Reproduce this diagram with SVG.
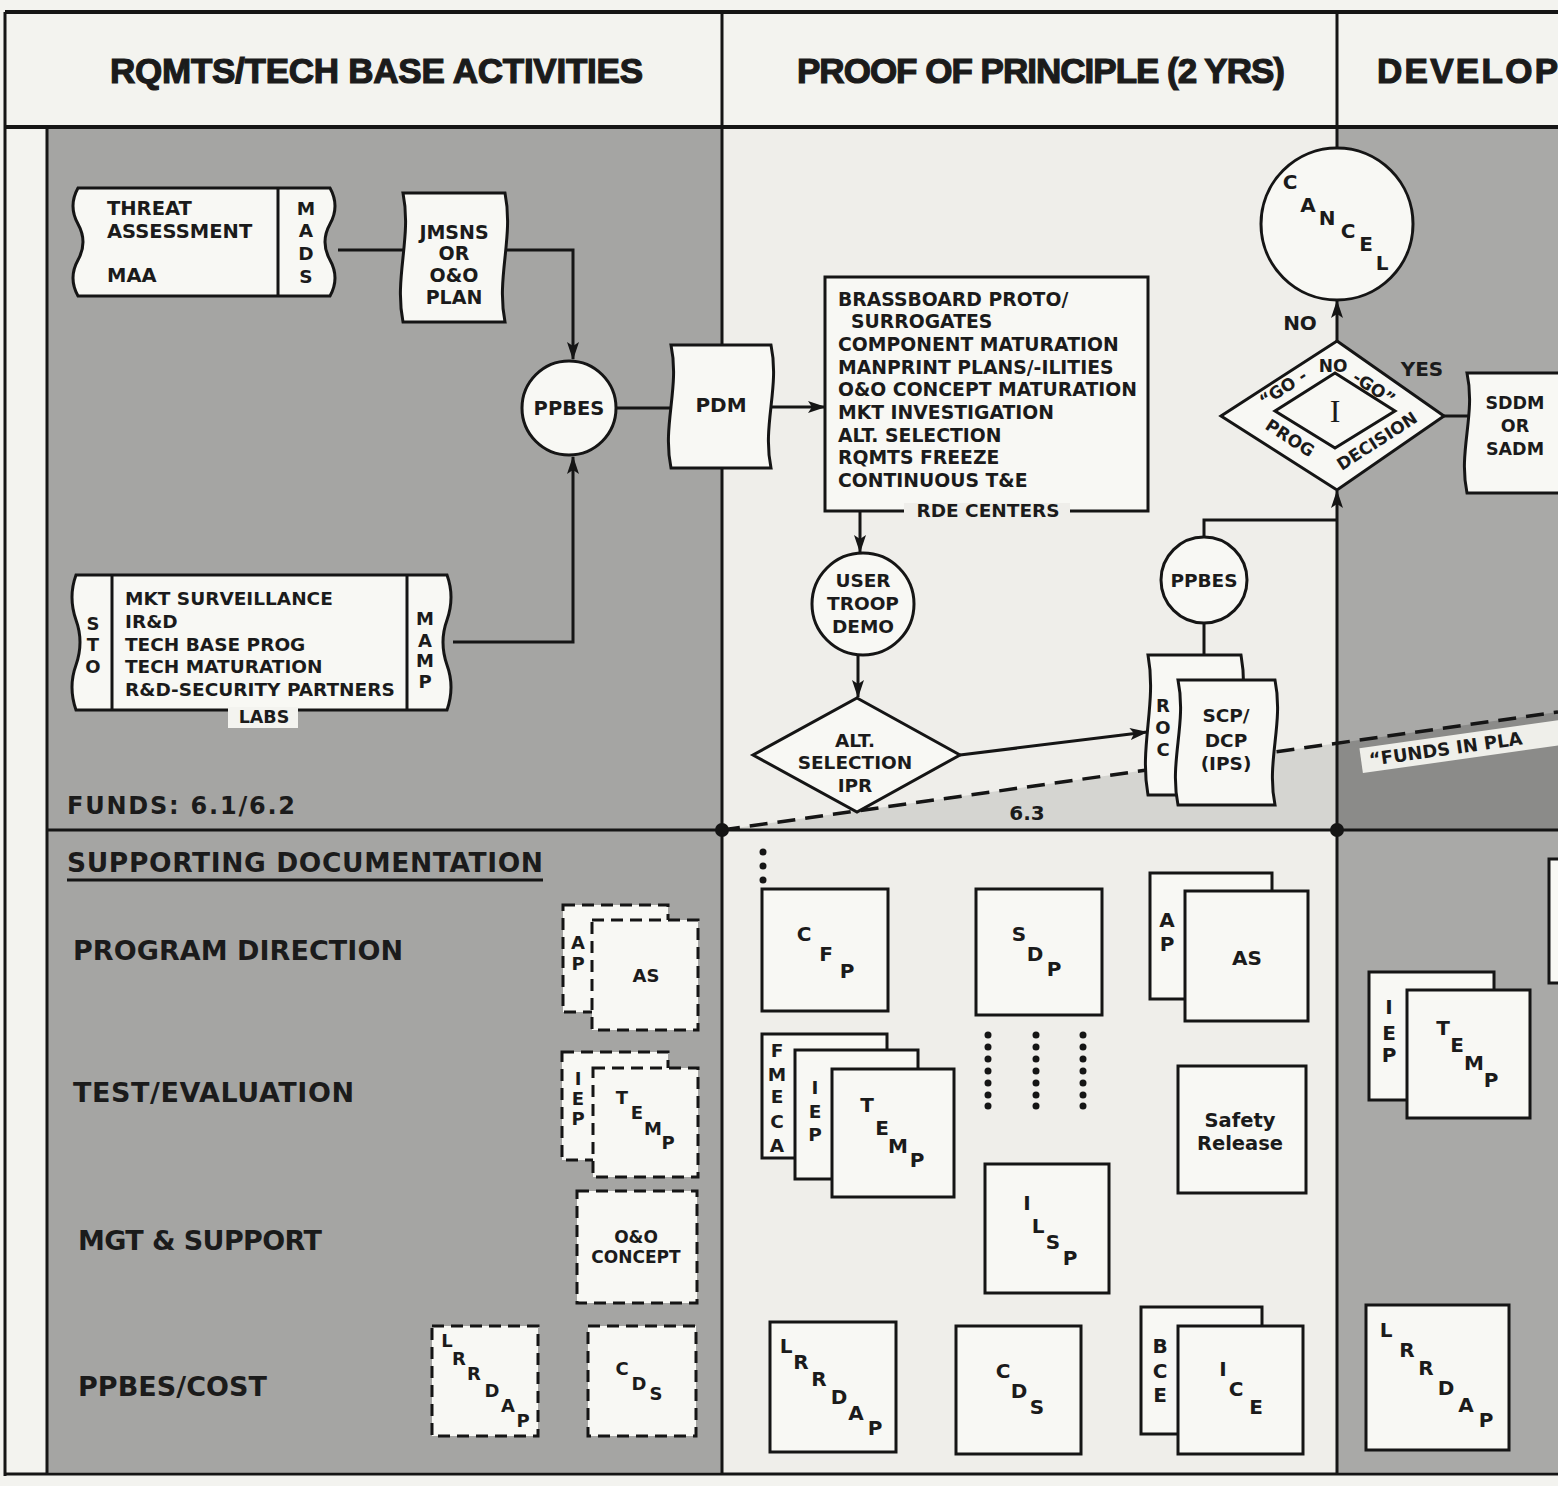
<svg xmlns="http://www.w3.org/2000/svg" width="1558" height="1486" viewBox="0 0 1558 1486">
<style>
.t{font-family:"DejaVu Sans","Liberation Sans",sans-serif;font-weight:bold;fill:#1b1b1b}
.m{text-anchor:middle}
.hd{font-family:"Liberation Sans",Arial,sans-serif;font-weight:bold;font-size:35px;fill:#1b1b1b;stroke:#1b1b1b;stroke-width:1.2}
.ln{fill:none;stroke:#151515;stroke-width:3}
.bd{fill:none;stroke:#151515;stroke-width:4}
.box{fill:#f8f8f4;stroke:#151515;stroke-width:3}
.dbox{fill:#f8f8f4;stroke:#151515;stroke-width:3;stroke-dasharray:12 7}
.dot{fill:#151515}
</style>
<defs>
<marker id="ah" markerUnits="userSpaceOnUse" markerWidth="18" markerHeight="12" refX="17" refY="6" orient="auto">
<path d="M0,0 L18,6 L0,12 L4,6 z" fill="#151515"/>
</marker>
</defs>

<!-- backgrounds -->
<rect x="0" y="0" width="1558" height="1486" fill="#f3f3ef"/>
<rect x="47" y="127" width="675" height="1345" fill="#a5a5a3"/>
<rect x="722" y="127" width="615" height="1345" fill="#efeeea"/>
<polygon points="722,830 1337,743.2 1337,830" fill="#d5d5d1"/>
<rect x="1337" y="127" width="221" height="1345" fill="#a9a9a7"/>
<polygon points="1337,743.2 1558,712 1558,830 1337,830" fill="#8b8b89"/>

<!-- frame -->
<g id="frame">
<path class="bd" d="M5,12 H1558 M5,127 H1558"/>
<path class="ln" d="M5,12 V1476 M5,1474 H1558 M47,127 V1474 M722,12 V1474 M1337,12 V148 M1337,830 V1474 M47,830 H1558"/>
<circle class="dot" cx="722" cy="830" r="7"/>
<circle class="dot" cx="1337" cy="830" r="7"/>
<path d="M722,830 L1558,712" fill="none" stroke="#151515" stroke-width="3.5" stroke-dasharray="18 10"/>
</g>

<!-- headers -->
<g id="headers">
<text class="hd" x="110" y="83" textLength="533">RQMTS/TECH BASE ACTIVITIES</text>
<text class="hd" x="797" y="83" textLength="488">PROOF OF PRINCIPLE (2 YRS)</text>
<text class="hd" x="1377" y="83" textLength="181">DEVELOP</text>
</g>

<!-- labels -->
<g id="labels">
<text class="t" x="67" y="814" font-size="24" textLength="228">FUNDS: 6.1/6.2</text>
<text class="t m" x="1027" y="820" font-size="20">6.3</text>
<text class="t" x="67" y="872" font-size="26.5" textLength="476">SUPPORTING DOCUMENTATION</text>
<path class="ln" d="M67,880 H543"/>
<text class="t" x="73" y="960" font-size="27" textLength="330">PROGRAM DIRECTION</text>
<text class="t" x="73" y="1102" font-size="27" textLength="281">TEST/EVALUATION</text>
<text class="t" x="78" y="1250" font-size="27" textLength="244">MGT &amp; SUPPORT</text>
<text class="t" x="78" y="1396" font-size="27" textLength="189">PPBES/COST</text>
<g transform="rotate(-8.03 1370 766)">
<rect x="1362" y="747" width="210" height="25" fill="#efefea"/>
<text class="t" x="1370" y="766" font-size="18">“FUNDS IN PLA</text>
</g>
</g>

<!-- connectors -->
<g id="connectors">
<path class="ln" d="M338,250 H403"/>
<path class="ln" d="M505,250 H573 V359" marker-end="url(#ah)"/>
<path class="ln" d="M453,642 H573 V457" marker-end="url(#ah)"/>
<path class="ln" d="M616,408 H672"/>
<path class="ln" d="M771,407 H825" marker-end="url(#ah)"/>
<path class="ln" d="M860,511 V552" marker-end="url(#ah)"/>
<path class="ln" d="M858,655 V697" marker-end="url(#ah)"/>
<path class="ln" d="M960,755 L1147,732" marker-end="url(#ah)"/>
<path class="ln" d="M1204,623 V656"/>
<path class="ln" d="M1204,537 V520 H1337"/>
<path class="ln" d="M1337,830 V491" marker-end="url(#ah)"/>
<path class="ln" d="M1337,341 V301" marker-end="url(#ah)"/>
<path class="ln" d="M1444,416 H1468"/>
</g>

<!-- upper-left nodes -->
<g id="threat">
<path class="box" d="M78,188 H330 Q340,206 330,224 Q320,242 330,260 Q340,278 330,296 H78 Q68,278 78,260 Q88,242 78,224 Q68,206 78,188 Z"/>
<path class="ln" d="M278,188 V296"/>
<text class="t" x="107" y="215" font-size="19.5">THREAT</text>
<text class="t" x="107" y="238" font-size="19.5">ASSESSMENT</text>
<text class="t" x="107" y="282" font-size="19.5">MAA</text>
<text class="t m" x="306" y="215" font-size="18.5">M</text>
<text class="t m" x="306" y="237" font-size="18.5">A</text>
<text class="t m" x="306" y="260" font-size="18.5">D</text>
<text class="t m" x="306" y="283" font-size="18.5">S</text>
</g>

<g id="jmsns">
<path class="box" d="M403,193 H505 C514,238 496,277 505,322 H403 C394,277 412,238 403,193 Z"/>
<text class="t m" x="454" y="239" font-size="19">JMSNS</text>
<text class="t m" x="454" y="260" font-size="19">OR</text>
<text class="t m" x="454" y="282" font-size="19">O&amp;O</text>
<text class="t m" x="454" y="304" font-size="19">PLAN</text>
</g>

<g id="ppbes1">
<circle class="box" cx="569" cy="408" r="47"/>
<text class="t m" x="569" y="415" font-size="19.5">PPBES</text>
</g>

<g id="pdm">
<path class="box" d="M671,345 H771 C780,388 762,425 771,468 H671 C662,425 680,388 671,345 Z"/>
<text class="t m" x="721" y="412" font-size="20">PDM</text>
</g>

<g id="mkt">
<path class="box" d="M76,575 H447 Q455,597 447,620 Q439,642 447,665 Q455,687 447,710 H76 Q68,687 76,665 Q84,642 76,620 Q68,597 76,575 Z"/>
<path class="ln" d="M112,575 V710 M407,575 V710"/>
<text class="t m" x="93" y="630" font-size="18">S</text>
<text class="t m" x="93" y="651" font-size="18">T</text>
<text class="t m" x="93" y="673" font-size="18">O</text>
<text class="t" x="125" y="605" font-size="18.5">MKT SURVEILLANCE</text>
<text class="t" x="125" y="628" font-size="18.5">IR&amp;D</text>
<text class="t" x="125" y="651" font-size="18.5">TECH BASE PROG</text>
<text class="t" x="125" y="673" font-size="18.5">TECH MATURATION</text>
<text class="t" x="125" y="696" font-size="18.5">R&amp;D-SECURITY PARTNERS</text>
<text class="t m" x="425" y="625" font-size="18">M</text>
<text class="t m" x="425" y="647" font-size="18">A</text>
<text class="t m" x="425" y="667" font-size="18">M</text>
<text class="t m" x="425" y="688" font-size="18">P</text>
<rect x="228" y="707" width="70" height="21" fill="#f3f3ef"/>
<text class="t m" x="264" y="723" font-size="17.5">LABS</text>
</g>

<!-- proof of principle nodes -->
<g id="brassboard">
<rect class="box" x="825" y="277" width="323" height="234"/>
<rect x="904" y="503" width="166" height="16" fill="#efeeea"/>
<text class="t" x="838" y="306" font-size="18.8">BRASSBOARD PROTO/</text>
<text class="t" x="851" y="328" font-size="18.8">SURROGATES</text>
<text class="t" x="838" y="351" font-size="18.8">COMPONENT MATURATION</text>
<text class="t" x="838" y="374" font-size="18.8">MANPRINT PLANS/-ILITIES</text>
<text class="t" x="838" y="396" font-size="18.8">O&amp;O CONCEPT MATURATION</text>
<text class="t" x="838" y="419" font-size="18.8">MKT INVESTIGATION</text>
<text class="t" x="838" y="442" font-size="18.8">ALT. SELECTION</text>
<text class="t" x="838" y="464" font-size="18.8">RQMTS FREEZE</text>
<text class="t" x="838" y="487" font-size="18.8">CONTINUOUS T&amp;E</text>
<text class="t m" x="988" y="517" font-size="18.5">RDE CENTERS</text>
</g>

<g id="usertroop">
<circle class="box" cx="863" cy="604" r="51"/>
<text class="t m" x="863" y="587" font-size="18.5">USER</text>
<text class="t m" x="863" y="610" font-size="18.5">TROOP</text>
<text class="t m" x="863" y="633" font-size="18.5">DEMO</text>
</g>

<g id="altselection">
<polygon class="box" points="857,698 960,755 857,812 753,755"/>
<text class="t m" x="855" y="747" font-size="18.5">ALT.</text>
<text class="t m" x="855" y="769" font-size="18.5">SELECTION</text>
<text class="t m" x="855" y="792" font-size="18.5">IPR</text>
</g>

<g id="ppbes2">
<circle class="box" cx="1204" cy="580" r="43"/>
<text class="t m" x="1204" y="587" font-size="18.5">PPBES</text>
</g>

<g id="roc">
<path class="box" d="M1148,655 H1241 C1250,704 1232,746 1241,795 H1148 C1139,746 1157,704 1148,655 Z"/>
<text class="t m" x="1163" y="712" font-size="18">R</text>
<text class="t m" x="1163" y="734" font-size="18">O</text>
<text class="t m" x="1163" y="756" font-size="18">C</text>
</g>

<g id="scp">
<path class="box" d="M1178,680 H1275 C1284,724 1266,761 1275,805 H1178 C1169,761 1187,724 1178,680 Z"/>
<text class="t m" x="1226" y="722" font-size="18.5">SCP/</text>
<text class="t m" x="1226" y="747" font-size="18.5">DCP</text>
<text class="t m" x="1226" y="770" font-size="18.5">(IPS)</text>
</g>

<g id="cancel">
<circle class="box" cx="1337" cy="224" r="76"/>
<text class="t m" x="1290" y="189" font-size="20">C</text>
<text class="t m" x="1308" y="212" font-size="20">A</text>
<text class="t m" x="1327" y="225" font-size="20">N</text>
<text class="t m" x="1348" y="238" font-size="20">C</text>
<text class="t m" x="1366" y="251" font-size="20">E</text>
<text class="t m" x="1382" y="270" font-size="20">L</text>
</g>

<g id="decision">
<polygon class="box" points="1337,341 1444,416 1337,490 1221,416"/>
<polygon class="box" points="1335,373 1395,411 1335,448 1275,411"/>
<text x="1335" y="422" font-family="Liberation Serif,serif" font-size="32" text-anchor="middle" fill="#1b1b1b">I</text>
<text class="t m" x="1283" y="394" font-size="17" transform="rotate(-33 1283 388)">“GO -</text>
<text class="t m" x="1333" y="372" font-size="17">NO</text>
<text class="t m" x="1374" y="394" font-size="17" transform="rotate(33 1374 388)">-GO”</text>
<text class="t m" x="1290" y="444" font-size="17" transform="rotate(33 1290 438)">PROG</text>
<text class="t m" x="1377" y="447" font-size="17" transform="rotate(-33 1377 441)">DECISION</text>
<text class="t m" x="1300" y="330" font-size="20">NO</text>
<text class="t m" x="1422" y="376" font-size="20">YES</text>
</g>

<g id="sddm">
<path class="box" d="M1467,373 H1567 C1576,415 1558,451 1567,493 H1467 C1458,451 1476,415 1467,373 Z"/>
<text class="t m" x="1515" y="409" font-size="17.5">SDDM</text>
<text class="t m" x="1515" y="432" font-size="17.5">OR</text>
<text class="t m" x="1515" y="455" font-size="17.5">SADM</text>
</g>

<!-- supporting documentation: left column (dashed) -->
<g id="l-ap-as">
<rect class="dbox" x="563" y="905" width="105" height="107"/>
<rect class="dbox" x="592" y="920" width="106" height="110"/>
<text class="t m" x="578" y="949" font-size="18">A</text>
<text class="t m" x="578" y="970" font-size="18">P</text>
<text class="t m" x="646" y="982" font-size="18">AS</text>
</g>
<g id="l-iep-temp">
<rect class="dbox" x="562" y="1052" width="106" height="108"/>
<rect class="dbox" x="593" y="1068" width="105" height="109"/>
<text class="t m" x="578" y="1085" font-size="18">I</text>
<text class="t m" x="578" y="1105" font-size="18">E</text>
<text class="t m" x="578" y="1125" font-size="18">P</text>
<text class="t m" x="622" y="1104" font-size="18">T</text>
<text class="t m" x="637" y="1119" font-size="18">E</text>
<text class="t m" x="653" y="1135" font-size="18">M</text>
<text class="t m" x="668" y="1149" font-size="18">P</text>
</g>
<g id="l-oo">
<rect class="dbox" x="577" y="1191" width="120" height="112"/>
<text class="t m" x="636" y="1243" font-size="17">O&amp;O</text>
<text class="t m" x="636" y="1263" font-size="17">CONCEPT</text>
</g>
<g id="l-lrrdap">
<rect class="dbox" x="432" y="1326" width="106" height="110"/>
<text class="t m" x="447" y="1347" font-size="18">L</text>
<text class="t m" x="459" y="1365" font-size="18">R</text>
<text class="t m" x="474" y="1380" font-size="18">R</text>
<text class="t m" x="492" y="1397" font-size="18">D</text>
<text class="t m" x="508" y="1412" font-size="18">A</text>
<text class="t m" x="523" y="1427" font-size="18">P</text>
</g>
<g id="l-cds">
<rect class="dbox" x="588" y="1326" width="108" height="110"/>
<text class="t m" x="622" y="1375" font-size="18">C</text>
<text class="t m" x="639" y="1390" font-size="18">D</text>
<text class="t m" x="656" y="1400" font-size="18">S</text>
</g>

<!-- middle column documents -->
<g id="m-dots">
<circle class="dot" cx="763" cy="852" r="3.5"/>
<circle class="dot" cx="763" cy="866" r="3.5"/>
<circle class="dot" cx="763" cy="880" r="3.5"/>
<g fill="#151515">
<circle cx="988" cy="1035" r="3.5"/><circle cx="988" cy="1047" r="3.5"/><circle cx="988" cy="1059" r="3.5"/><circle cx="988" cy="1071" r="3.5"/><circle cx="988" cy="1083" r="3.5"/><circle cx="988" cy="1095" r="3.5"/><circle cx="988" cy="1106" r="3.5"/>
<circle cx="1036" cy="1035" r="3.5"/><circle cx="1036" cy="1047" r="3.5"/><circle cx="1036" cy="1059" r="3.5"/><circle cx="1036" cy="1071" r="3.5"/><circle cx="1036" cy="1083" r="3.5"/><circle cx="1036" cy="1095" r="3.5"/><circle cx="1036" cy="1106" r="3.5"/>
<circle cx="1083" cy="1035" r="3.5"/><circle cx="1083" cy="1047" r="3.5"/><circle cx="1083" cy="1059" r="3.5"/><circle cx="1083" cy="1071" r="3.5"/><circle cx="1083" cy="1083" r="3.5"/><circle cx="1083" cy="1095" r="3.5"/><circle cx="1083" cy="1106" r="3.5"/>
</g>
</g>
<g id="m-cfp">
<rect class="box" x="762" y="889" width="126" height="122"/>
<text class="t m" x="804" y="941" font-size="20">C</text>
<text class="t m" x="826" y="961" font-size="20">F</text>
<text class="t m" x="847" y="978" font-size="20">P</text>
</g>
<g id="m-sdp">
<rect class="box" x="976" y="889" width="126" height="126"/>
<text class="t m" x="1019" y="941" font-size="20">S</text>
<text class="t m" x="1035" y="961" font-size="20">D</text>
<text class="t m" x="1054" y="976" font-size="20">P</text>
</g>
<g id="m-ap-as">
<rect class="box" x="1150" y="873" width="122" height="126"/>
<rect class="box" x="1185" y="891" width="123" height="130"/>
<text class="t m" x="1167" y="927" font-size="20">A</text>
<text class="t m" x="1167" y="951" font-size="20">P</text>
<text class="t m" x="1247" y="965" font-size="20">AS</text>
</g>
<g id="m-fmeca-iep-temp">
<rect class="box" x="762" y="1034" width="125" height="124"/>
<rect class="box" x="795" y="1050" width="123" height="129"/>
<rect class="box" x="832" y="1069" width="122" height="128"/>
<text class="t m" x="777" y="1057" font-size="18.5">F</text>
<text class="t m" x="777" y="1081" font-size="18.5">M</text>
<text class="t m" x="777" y="1103" font-size="18.5">E</text>
<text class="t m" x="777" y="1128" font-size="18.5">C</text>
<text class="t m" x="777" y="1152" font-size="18.5">A</text>
<text class="t m" x="815" y="1094" font-size="18.5">I</text>
<text class="t m" x="815" y="1118" font-size="18.5">E</text>
<text class="t m" x="815" y="1141" font-size="18.5">P</text>
<text class="t m" x="867" y="1112" font-size="20">T</text>
<text class="t m" x="882" y="1135" font-size="20">E</text>
<text class="t m" x="898" y="1153" font-size="20">M</text>
<text class="t m" x="917" y="1167" font-size="20">P</text>
</g>
<g id="m-safety">
<rect class="box" x="1178" y="1066" width="128" height="127"/>
<text class="t m" x="1240" y="1127" font-size="19.5">Safety</text>
<text class="t m" x="1240" y="1150" font-size="19.5">Release</text>
</g>
<g id="m-ilsp">
<rect class="box" x="985" y="1164" width="124" height="129"/>
<text class="t m" x="1027" y="1210" font-size="20">I</text>
<text class="t m" x="1038" y="1233" font-size="20">L</text>
<text class="t m" x="1053" y="1249" font-size="20">S</text>
<text class="t m" x="1070" y="1265" font-size="20">P</text>
</g>
<g id="m-lrrdap">
<rect class="box" x="770" y="1322" width="126" height="130"/>
<text class="t m" x="786" y="1353" font-size="20">L</text>
<text class="t m" x="801" y="1369" font-size="20">R</text>
<text class="t m" x="819" y="1386" font-size="20">R</text>
<text class="t m" x="839" y="1404" font-size="20">D</text>
<text class="t m" x="856" y="1420" font-size="20">A</text>
<text class="t m" x="875" y="1435" font-size="20">P</text>
</g>
<g id="m-cds">
<rect class="box" x="956" y="1326" width="125" height="128"/>
<text class="t m" x="1003" y="1378" font-size="20">C</text>
<text class="t m" x="1019" y="1398" font-size="20">D</text>
<text class="t m" x="1037" y="1414" font-size="20">S</text>
</g>
<g id="m-bce-ice">
<rect class="box" x="1141" y="1307" width="121" height="127"/>
<rect class="box" x="1178" y="1326" width="125" height="128"/>
<text class="t m" x="1160" y="1353" font-size="20">B</text>
<text class="t m" x="1160" y="1378" font-size="20">C</text>
<text class="t m" x="1160" y="1402" font-size="20">E</text>
<text class="t m" x="1223" y="1376" font-size="20">I</text>
<text class="t m" x="1236" y="1396" font-size="20">C</text>
<text class="t m" x="1256" y="1414" font-size="20">E</text>
</g>

<!-- right column documents -->
<g id="r-edge">
<rect class="box" x="1549" y="859" width="20" height="124"/>
</g>
<g id="r-iep-temp">
<rect class="box" x="1369" y="972" width="125" height="128"/>
<rect class="box" x="1407" y="990" width="123" height="128"/>
<text class="t m" x="1389" y="1014" font-size="20">I</text>
<text class="t m" x="1389" y="1040" font-size="20">E</text>
<text class="t m" x="1389" y="1062" font-size="20">P</text>
<text class="t m" x="1443" y="1035" font-size="20">T</text>
<text class="t m" x="1457" y="1052" font-size="20">E</text>
<text class="t m" x="1474" y="1070" font-size="20">M</text>
<text class="t m" x="1491" y="1087" font-size="20">P</text>
</g>
<g id="r-lrrdap">
<rect class="box" x="1366" y="1305" width="143" height="145"/>
<text class="t m" x="1386" y="1337" font-size="20">L</text>
<text class="t m" x="1407" y="1357" font-size="20">R</text>
<text class="t m" x="1426" y="1375" font-size="20">R</text>
<text class="t m" x="1446" y="1395" font-size="20">D</text>
<text class="t m" x="1466" y="1412" font-size="20">A</text>
<text class="t m" x="1486" y="1427" font-size="20">P</text>
</g>
</svg>
